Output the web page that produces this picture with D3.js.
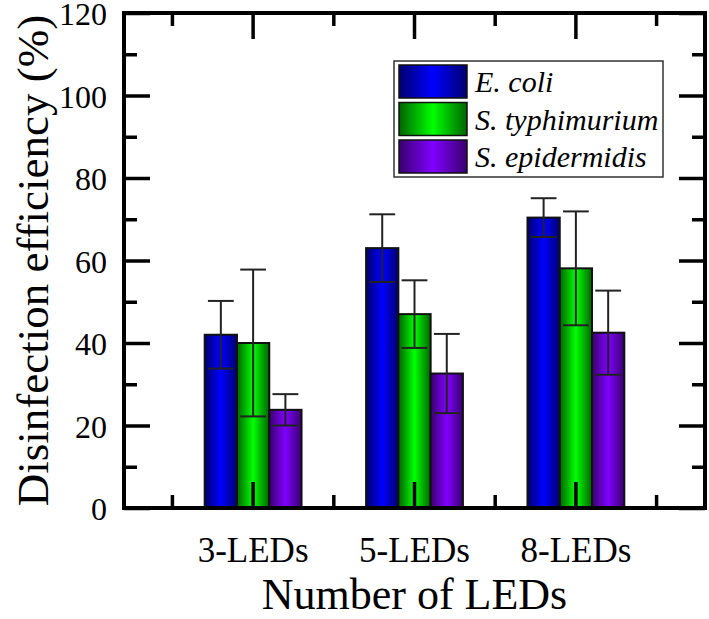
<!DOCTYPE html>
<html>
<head>
<meta charset="utf-8">
<script src="https://cdn.jsdelivr.net/npm/d3@7"></script>
<style>
  html, body { margin: 0; padding: 0; background: #fff; }
  svg { display: block; }
  svg text { font-family: "Liberation Serif", serif; }
</style>
</head>
<body>
<svg id="chart" width="709" height="619"></svg>
<script>
// ---- data ----
const categories = ["3-LEDs", "5-LEDs", "8-LEDs"];
const seriesNames = ["E. coli", "S. typhimurium", "S. epidermidis"];
const eColi = [42.0, 63.0, 70.4];
const eColiErr = [8.2, 8.2, 4.7];
const sTyphimurium = [40.0, 47.0, 58.1];
const sTyphimuriumErr = [17.8, 8.2, 13.8];
const sEpidermidis = [23.8, 32.6, 42.5];
const sEpidermidisErr = [3.8, 9.6, 10.2];
const yMajorTicks = [0, 20, 40, 60, 80, 100, 120];
const yMinorTicks = [10, 30, 50, 70, 90, 110];
const yTitle = "Disinfection efficiency (%)";
const xTitle = "Number of LEDs";

const seriesValues = [eColi, sTyphimurium, sEpidermidis];
const seriesErrors = [eColiErr, sTyphimuriumErr, sEpidermidisErr];
const colors = [
  { edge: "#00006e", mid: "#0000ff" },
  { edge: "#006400", mid: "#00ff00" },
  { edge: "#38006e", mid: "#8000ff" }
];

// ---- layout ----
const L = 124, R = 705, T = 13, B = 508;
const svg = d3.select("#chart");
const serif = "Liberation Serif, serif";

const x0 = d3.scaleBand().domain(categories).range([L, R]).paddingInner(0).paddingOuter(0.3);
const x1 = d3.scaleBand().domain(seriesNames).range([-0.3 * x0.step(), 0.3 * x0.step()]).padding(0);
const y = d3.scaleLinear().domain([0, 120]).range([B, T]);

// gradients
const defs = svg.append("defs");
colors.forEach((c, i) => {
  const g = defs.append("linearGradient").attr("id", "grad" + i)
    .attr("x1", "0%").attr("x2", "100%").attr("y1", "0%").attr("y2", "0%");
  g.append("stop").attr("offset", "0%").attr("stop-color", c.edge);
  g.append("stop").attr("offset", "50%").attr("stop-color", c.mid);
  g.append("stop").attr("offset", "100%").attr("stop-color", c.edge);
});

// ---- bars ----
const flat = [];
categories.forEach((cat, ci) => {
  seriesNames.forEach((s, si) => {
    flat.push({ cat, s, si, v: seriesValues[si][ci], e: seriesErrors[si][ci] });
  });
});
const cx = d => x0(d.cat) + x0.bandwidth() / 2;

svg.append("g").selectAll("rect").data(flat).join("rect")
  .attr("x", d => cx(d) + x1(d.s))
  .attr("width", x1.bandwidth())
  .attr("y", d => y(d.v))
  .attr("height", d => y(0) - y(d.v))
  .attr("fill", d => `url(#grad${d.si})`)
  .attr("stroke", "#111")
  .attr("stroke-width", 2);

// error bars
const capW = x1.bandwidth() * 0.8;
const eg = svg.append("g").attr("stroke", "#222").attr("stroke-width", 2).attr("fill", "none");
flat.forEach(d => {
  const xc = cx(d) + x1(d.s) + x1.bandwidth() / 2;
  eg.append("line").attr("x1", xc).attr("x2", xc).attr("y1", y(d.v + d.e)).attr("y2", y(d.v - d.e));
  eg.append("line").attr("x1", xc - capW / 2).attr("x2", xc + capW / 2).attr("y1", y(d.v + d.e)).attr("y2", y(d.v + d.e));
  eg.append("line").attr("x1", xc - capW / 2).attr("x2", xc + capW / 2).attr("y1", y(d.v - d.e)).attr("y2", y(d.v - d.e));
});

// ---- axes ----
const major = 26, minor = 13, tw = 3.5;
function styleAxis(g, showLabels, fs) {
  g.attr("font-family", null).attr("font-size", null);
  g.select(".domain").remove();
  g.selectAll(".tick line").attr("stroke", "#000").attr("stroke-width", tw);
  if (showLabels) {
    g.selectAll(".tick text").style("font-family", serif).style("font-size", fs + "px").attr("fill", "#000");
  } else {
    g.selectAll(".tick text").remove();
  }
}

// left
svg.append("g").attr("transform", `translate(${L},0)`)
  .call(d3.axisLeft(y).tickValues(yMajorTicks).tickSizeInner(-major).tickSizeOuter(0).tickPadding(17).tickFormat(d3.format("d")))
  .call(g => styleAxis(g, true, 32))
  .call(g => g.selectAll(".tick text").attr("dy", "0.36em"));
svg.append("g").attr("transform", `translate(${L},0)`)
  .call(d3.axisLeft(y).tickValues(yMinorTicks).tickSizeInner(-minor).tickSizeOuter(0))
  .call(g => styleAxis(g, false));
// right
svg.append("g").attr("transform", `translate(${R},0)`)
  .call(d3.axisRight(y).tickValues(yMajorTicks).tickSizeInner(-major).tickSizeOuter(0))
  .call(g => styleAxis(g, false));
svg.append("g").attr("transform", `translate(${R},0)`)
  .call(d3.axisRight(y).tickValues(yMinorTicks).tickSizeInner(-minor).tickSizeOuter(0))
  .call(g => styleAxis(g, false));

// bottom
svg.append("g").attr("transform", `translate(0,${B})`)
  .call(d3.axisBottom(x0).tickSizeInner(-major).tickSizeOuter(0).tickPadding(29))
  .call(g => styleAxis(g, true, 35))
  .call(g => g.selectAll(".tick text").attr("dy", "0.71em"));
// top
svg.append("g").attr("transform", `translate(0,${T})`)
  .call(d3.axisTop(x0).tickSizeInner(-major).tickSizeOuter(0))
  .call(g => styleAxis(g, false));

// minor x ticks at band boundaries
const xMinor = categories.map(c => x0(c)).concat([x0(categories[categories.length - 1]) + x0.bandwidth()]);
const mg = svg.append("g").attr("stroke", "#000").attr("stroke-width", tw);
xMinor.forEach(xv => {
  mg.append("line").attr("x1", xv).attr("x2", xv).attr("y1", B).attr("y2", B - minor);
  mg.append("line").attr("x1", xv).attr("x2", xv).attr("y1", T).attr("y2", T + minor);
});

// frame
svg.append("rect").attr("x", L).attr("y", T).attr("width", R - L).attr("height", B - T)
  .attr("fill", "none").attr("stroke", "#000").attr("stroke-width", 4);

// titles
svg.append("text").attr("transform", `translate(48,${(T + B) / 2}) rotate(-90)`)
  .attr("text-anchor", "middle").style("font-family", serif).style("font-size", "45px").text(yTitle);
svg.append("text").attr("x", (L + R) / 2).attr("y", 609)
  .attr("text-anchor", "middle").style("font-family", serif).style("font-size", "44px").text(xTitle);

// ---- legend ----
const lg = svg.append("g");
lg.append("rect").attr("x", 394).attr("y", 61).attr("width", 269).attr("height", 116)
  .attr("fill", "#fff").attr("stroke", "#333").attr("stroke-width", 1.5);
seriesNames.forEach((s, i) => {
  const yy = 65 + i * 37.5;
  lg.append("rect").attr("x", 399).attr("y", yy).attr("width", 68).attr("height", 33)
    .attr("fill", `url(#grad${i})`).attr("stroke", "#111").attr("stroke-width", 1.5);
  lg.append("text").attr("x", 475).attr("y", yy + 27).style("font-family", serif)
    .style("font-style", "italic").style("font-size", "30px").text(s);
});
</script>
</body>
</html>
